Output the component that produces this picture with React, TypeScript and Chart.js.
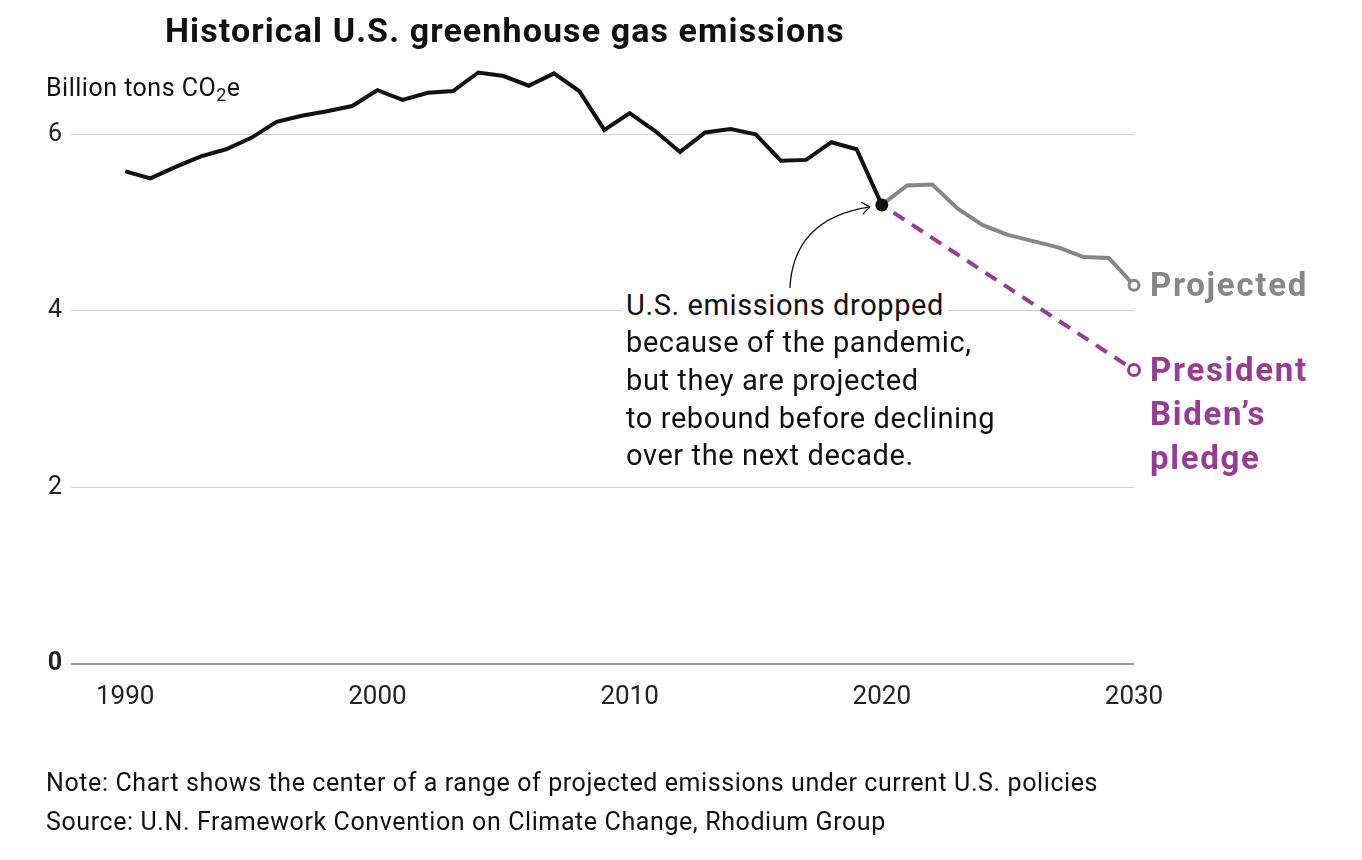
import React, { useEffect, useRef } from "react";
import { Chart, registerables } from "chart.js";

Chart.register(...registerables);

const FONT = "Roboto, 'Noto Sans', sans-serif";

// ---------- data ----------
const historicalYears = [
  1990, 1991, 1992, 1993, 1994, 1995, 1996, 1997, 1998, 1999,
  2000, 2001, 2002, 2003, 2004, 2005, 2006, 2007, 2008, 2009,
  2010, 2011, 2012, 2013, 2014, 2015, 2016, 2017, 2018, 2019, 2020,
];
const historicalValues = [
  5.58, 5.5, 5.63, 5.75, 5.83, 5.96, 6.14, 6.21, 6.26, 6.32,
  6.5, 6.39, 6.47, 6.49, 6.7, 6.66, 6.55, 6.69, 6.49, 6.05,
  6.24, 6.04, 5.8, 6.02, 6.06, 6.0, 5.7, 5.71, 5.91, 5.83, 5.2,
];
const projectedYears = [2020, 2021, 2022, 2023, 2024, 2025, 2026, 2027, 2028, 2029, 2030];
const projectedValues = [5.2, 5.42, 5.43, 5.16, 4.97, 4.86, 4.79, 4.72, 4.61, 4.6, 4.29];
const pledgeYears = [2020, 2030];
const pledgeValues = [5.2, 3.33];

const xMin = 1987.85;
const xMax = 2030;
const yMin = 0;
const yMax = 7;
const xTickValues = [1990, 2000, 2010, 2020, 2030];
const yTickValues = [0, 2, 4, 6];

const titleText = "Historical U.S. greenhouse gas emissions";
const noteText = "Note: Chart shows the center of a range of projected emissions under current U.S. policies";
const sourceText = "Source: U.N. Framework Convention on Climate Change, Rhodium Group";
const annotationLines = [
  "U.S. emissions dropped",
  "because of the pandemic,",
  "but they are projected",
  "to rebound before declining",
  "over the next decade.",
];
const projectedLabel = ["Projected"];
const pledgeLabel = ["President", "Biden\u2019s", "pledge"];

const BLACK = "#111111";
const GRAY = "#878787";
const PURPLE = "#983c93";

function toXY(xs: number[], ys: number[]) {
  return xs.map((x, i) => ({ x, y: ys[i] }));
}

function topFor(baseline: number, size: number, lh: number) {
  return baseline - ((lh - 1.171 * size) / 2 + 0.928 * size);
}

const overlayPlugin = {
  id: "overlay",
  afterDatasetsDraw(chart: any) {
    const { ctx, scales } = chart;
    const x = scales.x;
    const y = scales.y;
    const px = x.getPixelForValue(historicalYears[historicalYears.length - 1]);
    const py = y.getPixelForValue(historicalValues[historicalValues.length - 1]);

    // curved arrow
    const sx = px - 92;
    const sy = py + 86;
    const tx = px - 12;
    const ty = py + 2;
    const cx = px - 90;
    const cy = py + 14;
    ctx.save();
    ctx.strokeStyle = "#111";
    ctx.lineWidth = 1.3;
    ctx.beginPath();
    ctx.moveTo(sx, sy);
    ctx.quadraticCurveTo(cx, cy, tx, ty);
    ctx.stroke();
    const ang = Math.atan2(ty - cy, tx - cx);
    const L = 10;
    const spread = 0.65;
    ctx.beginPath();
    ctx.moveTo(tx - L * Math.cos(ang - spread), ty - L * Math.sin(ang - spread));
    ctx.lineTo(tx, ty);
    ctx.lineTo(tx - L * Math.cos(ang + spread), ty - L * Math.sin(ang + spread));
    ctx.stroke();

    // end labels
    ctx.textAlign = "left";
    ctx.textBaseline = "alphabetic";
    ctx.font = `bold 33px ${FONT}`;
    try {
      (ctx as any).letterSpacing = "1.7px";
    } catch (e) {}
    const gx = x.getPixelForValue(projectedYears[projectedYears.length - 1]);
    const gy = y.getPixelForValue(projectedValues[projectedValues.length - 1]);
    ctx.fillStyle = GRAY;
    projectedLabel.forEach((t, i) => ctx.fillText(t, gx + 16, gy + 11 + i * 44));
    const bx = x.getPixelForValue(pledgeYears[pledgeYears.length - 1]);
    const by = y.getPixelForValue(pledgeValues[pledgeValues.length - 1]);
    ctx.fillStyle = PURPLE;
    pledgeLabel.forEach((t, i) => ctx.fillText(t, bx + 16, by + 11 + i * 44));
    ctx.restore();
  },
};

export default function App() {
  const canvasRef = useRef<HTMLCanvasElement | null>(null);

  useEffect(() => {
    if (!canvasRef.current) return;
    const lastH = historicalValues.length - 1;
    const lastP = projectedValues.length - 1;
    const lastB = pledgeValues.length - 1;
    const chart = new Chart(canvasRef.current, {
      type: "line",
      data: {
        datasets: [
          {
            label: "Historical",
            data: toXY(historicalYears, historicalValues),
            borderColor: BLACK,
            borderWidth: 4,
            backgroundColor: BLACK,
            pointRadius: (c: any) => (c.dataIndex === lastH ? 6.5 : 0),
            pointBackgroundColor: BLACK,
            pointBorderWidth: 0,
            clip: false,
            tension: 0,
          },
          {
            label: "Projected",
            data: toXY(projectedYears, projectedValues),
            borderColor: GRAY,
            borderWidth: 4,
            pointRadius: (c: any) => (c.dataIndex === lastP ? 5 : 0),
            pointBackgroundColor: "#ffffff",
            pointBorderColor: GRAY,
            pointBorderWidth: 3,
            clip: false,
            tension: 0,
          },
          {
            label: "President Biden's pledge",
            data: toXY(pledgeYears, pledgeValues),
            borderColor: PURPLE,
            borderWidth: 4,
            borderDash: [13, 9],
            borderDashOffset: -14,
            pointRadius: (c: any) => (c.dataIndex === lastB ? 5.5 : 0),
            pointBackgroundColor: "#ffffff",
            pointBorderColor: PURPLE,
            pointBorderWidth: 3,
            clip: false,
            tension: 0,
          },
        ],
      },
      options: {
        responsive: false,
        animation: false,
        devicePixelRatio: window.devicePixelRatio || 1,
        layout: { padding: { left: 0, right: 228, top: 46, bottom: 136 } },
        plugins: {
          legend: { display: false },
          tooltip: { enabled: false },
          title: { display: false },
        },
        events: [],
        scales: {
          x: {
            type: "linear",
            min: xMin,
            max: xMax,
            grid: { display: false, drawTicks: false },
            border: { display: false },
            afterBuildTicks: (s: any) => {
              s.ticks = xTickValues.map((v) => ({ value: v }));
            },
            afterFit: (s: any) => {
              s.height = 60;
            },
            ticks: {
              autoSkip: false,
              maxRotation: 0,
              padding: 18,
              color: "#222",
              font: { family: FONT, size: 26 },
              callback: (v: any) => String(v),
            },
          },
          y: {
            type: "linear",
            min: yMin,
            max: yMax,
            afterBuildTicks: (s: any) => {
              s.ticks = yTickValues.map((v) => ({ value: v }));
            },
            afterFit: (s: any) => {
              s.width = 71;
            },
            grid: {
              drawTicks: false,
              color: (c: any) => (c.tick && c.tick.value === 0 ? "#9a9a9a" : "#d2d2d2"),
              lineWidth: (c: any) => (c.tick && c.tick.value === 0 ? 2 : 1),
            },
            border: { display: false },
            ticks: {
              padding: 9,
              color: "#222",
              font: (c: any) => ({
                family: FONT,
                size: 25,
                weight: c.tick && c.tick.value === 0 ? "bold" : "normal",
              }),
              callback: (v: any) => String(v),
            },
          },
        },
      },
      plugins: [overlayPlugin],
    } as any);
    return () => chart.destroy();
  }, []);

  const abs = (
    x: number,
    baseline: number,
    size: number,
    lh: number,
    spacing: number
  ): React.CSSProperties => ({
    position: "absolute",
    left: x,
    top: topFor(baseline, size, lh),
    fontSize: size,
    lineHeight: `${lh}px`,
    letterSpacing: `${spacing}px`,
    fontFamily: FONT,
    whiteSpace: "nowrap",
    color: "#111",
    margin: 0,
  });

  return (
    <div
      style={{
        position: "absolute",
        left: 0,
        top: 0,
        width: 1362,
        height: 860,
        background: "#fff",
        overflow: "hidden",
      }}
    >
      <canvas
        ref={canvasRef}
        width={1362}
        height={860}
        style={{ position: "absolute", left: 0, top: 0, width: 1362, height: 860 }}
      />
      <div style={{ ...abs(165, 42, 34, 40, 1.1), fontWeight: 700 }}>{titleText}</div>
      <div style={abs(46, 97, 25, 30, 0.5)}>
        Billion tons CO
        <span style={{ fontSize: "0.72em", position: "relative", top: "0.28em" }}>2</span>e
      </div>
      {annotationLines.map((t, i) => (
        <div
          key={i}
          style={{
            ...abs(622, 315 + i * 37.7, 29, 35, 0.6),
            background: "#fff",
            padding: "0 4px",
          }}
        >
          {t}
        </div>
      ))}
      <div style={abs(46, 792, 25, 30, 0.6)}>{noteText}</div>
      <div style={abs(46, 831, 25, 30, 0.6)}>{sourceText}</div>
    </div>
  );
}
